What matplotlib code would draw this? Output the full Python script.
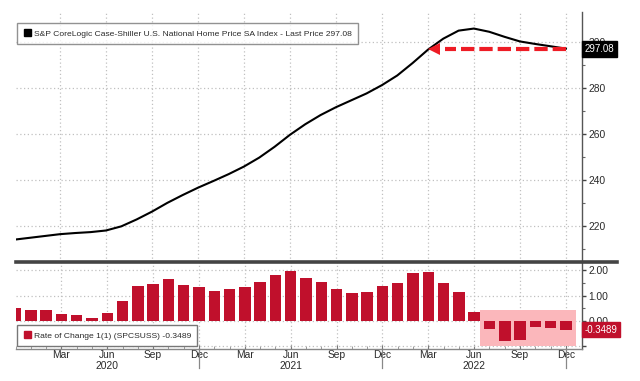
import numpy as np
import matplotlib
matplotlib.use("Agg")
import matplotlib.pyplot as plt
from matplotlib.patches import Patch, Rectangle
from matplotlib.lines import Line2D
import matplotlib.transforms as mtransforms

plt.rcParams['font.family'] = ['Liberation Sans', 'DejaVu Sans']

# ---------------- data ----------------
months = ['Dec 2019',
          'Jan 2020', 'Feb 2020', 'Mar 2020', 'Apr 2020', 'May 2020', 'Jun 2020',
          'Jul 2020', 'Aug 2020', 'Sep 2020', 'Oct 2020', 'Nov 2020', 'Dec 2020',
          'Jan 2021', 'Feb 2021', 'Mar 2021', 'Apr 2021', 'May 2021', 'Jun 2021',
          'Jul 2021', 'Aug 2021', 'Sep 2021', 'Oct 2021', 'Nov 2021', 'Dec 2021',
          'Jan 2022', 'Feb 2022', 'Mar 2022', 'Apr 2022', 'May 2022', 'Jun 2022',
          'Jul 2022', 'Aug 2022', 'Sep 2022', 'Oct 2022', 'Nov 2022', 'Dec 2022']

hpi_index = [214.0,
             214.8, 215.6, 216.4, 216.9, 217.3, 218.0,
             219.8, 222.8, 226.2, 230.0, 233.4, 236.6,
             239.5, 242.5, 245.8, 249.7, 254.4, 259.6,
             264.2, 268.2, 271.6, 274.6, 277.6, 281.2,
             285.4, 290.8, 296.6, 301.4, 304.9, 305.8,
             304.4, 302.2, 300.2, 299.1, 298.1, 297.08]

rate_of_change = [0.50,
                  0.43, 0.43, 0.28, 0.25, 0.13, 0.33,
                  0.80, 1.38, 1.46, 1.65, 1.42, 1.33,
                  1.20, 1.25, 1.33, 1.55, 1.82, 1.98,
                  1.69, 1.53, 1.25, 1.09, 1.16, 1.40,
                  1.49, 1.88, 1.92, 1.51, 1.16, 0.34,
                  -0.32, -0.78, -0.77, -0.22, -0.29, -0.3489]

tick_months = ['Mar 2020', 'Jun 2020', 'Sep 2020', 'Dec 2020',
               'Mar 2021', 'Jun 2021', 'Sep 2021', 'Dec 2021',
               'Mar 2022', 'Jun 2022', 'Sep 2022', 'Dec 2022']
year_labels = ['2020', '2021', '2022']

top_yticks = [220, 240, 260, 280, 300]
bot_yticks = [2.0, 1.0, 0.0, -1.0]

last_price = 297.08
last_roc = -0.3489
arrow_from, arrow_to = 'Dec 2022', 'Mar 2022'
highlight_from, highlight_to = 'Jun 2022', 'Dec 2022'
highlight_top = 0.43

line_label = 'S&P CoreLogic Case-Shiller U.S. National Home Price SA Index - Last Price 297.08'
bar_label = 'Rate of Change 1(1) (SPCSUSS) -0.3489'

# ---------------- layout ----------------
W, H = 640, 381
fig = plt.figure(figsize=(W / 100, H / 100), dpi=100)
fig.patch.set_facecolor('white')

x_left, x_right = 15.5, 582
y_top, y_sep, y_bot = 12, 262, 349
ax1 = fig.add_axes([x_left / W, 1 - y_sep / H, (x_right - x_left) / W, (y_sep - y_top) / H])
ax2 = fig.add_axes([x_left / W, 1 - y_bot / H, (x_right - x_left) / W, (y_bot - y_sep) / H])

x = np.arange(len(months))
idx = {m: i for i, m in enumerate(months)}
xlim = (0.1, 37.05)

text_col = '#2a2a2a'
grid_col = '#c0c0c0'
red = '#c0102c'
fs_tick = 7.4
fs_leg = 6.1

for ax in (ax1, ax2):
    ax.set_xlim(*xlim)
    for s in ('top', 'left'):
        ax.spines[s].set_visible(False)
    ax.spines['right'].set_color('#555555')
    ax.spines['right'].set_linewidth(1.0)
    ax.yaxis.tick_right()
    ax.tick_params(axis='y', which='major', direction='out', length=3, width=1,
                   colors='#444444', labelcolor=text_col, labelsize=fs_tick, pad=1.5)
    ax.tick_params(axis='y', which='minor', direction='out', length=2, width=0.8, colors='#666666')
    ax.set_xticks([idx[m] for m in tick_months])
    ax.grid(True, which='major', color=grid_col, linestyle=(0, (1, 2)), linewidth=0.9)
    ax.set_axisbelow(True)

# ---------------- top panel ----------------
ax1.set_ylim(204.3, 313.0)
ax1.set_yticks(top_yticks)
ax1.set_yticks([v + 10 for v in top_yticks[:-1]] + [210], minor=True)
ax1.spines['bottom'].set_visible(False)
ax1.tick_params(axis='x', which='both', bottom=False, labelbottom=False)
ax1.plot(x, hpi_index, color='black', linewidth=1.5, zorder=3)

# red dashed arrow
xa0, xa1 = idx[arrow_from], idx[arrow_to] + 0.7
ax1.plot([xa0, xa1 + 0.4], [last_price, last_price], color='#ee1c25', linewidth=3.0,
         linestyle=(0, (3.2, 1.2)), solid_capstyle='butt', zorder=4)
ax1.plot([xa1 - 0.3], [last_price], marker='<', color='#ee1c25', markersize=9,
         markeredgewidth=0, zorder=4)

# price tag
ax1.annotate(f'{last_price:.2f}', xy=(1.0, last_price),
             xycoords=mtransforms.blended_transform_factory(ax1.transAxes, ax1.transData),
             xytext=(2, 0), textcoords='offset points', ha='left', va='center',
             color='white', fontsize=fs_tick - 0.4, zorder=10, annotation_clip=False,
             bbox=dict(boxstyle='square,pad=0.3', facecolor='black', edgecolor='black'))

ax1.legend(handles=[Patch(facecolor='black', edgecolor='black')], labels=[line_label],
           loc='upper left', bbox_to_anchor=(0.003, 0.956), borderaxespad=0,
           fontsize=fs_leg, frameon=True,
           fancybox=False, edgecolor='#777777', handlelength=0.9, handleheight=0.9,
           handletextpad=0.3, borderpad=0.75, labelcolor=text_col)

# ---------------- bottom panel ----------------
ax2.set_ylim(-1.107, 2.33)
ax2.set_yticks(bot_yticks)
ax2.set_yticklabels(['2.00', '1.00', '0.00', ''])
ax2.set_yticks([1.5, 0.5, -0.5], minor=True)
ax2.spines['bottom'].set_color('#888888')
ax2.spines['bottom'].set_linewidth(1.0)

hx0 = idx[highlight_from] + 0.4
hx1 = idx[highlight_to] + 0.66
ax2.add_patch(Rectangle((hx0, -1.0), hx1 - hx0, highlight_top + 1.0,
                        facecolor='#fbb7bb', edgecolor='none', zorder=1))
ax2.bar(x, rate_of_change, width=0.75, color=red, edgecolor=red, linewidth=0, zorder=3)

ax2.annotate(f'{last_roc:.4f}', xy=(1.0, last_roc),
             xycoords=mtransforms.blended_transform_factory(ax2.transAxes, ax2.transData),
             xytext=(2, 0), textcoords='offset points', ha='left', va='center',
             color='white', fontsize=fs_tick - 0.4, zorder=10, annotation_clip=False,
             bbox=dict(boxstyle='square,pad=0.25', facecolor=red, edgecolor=red))

ax2.legend(handles=[Patch(facecolor=red, edgecolor=red)], labels=[bar_label],
           loc='lower left', bbox_to_anchor=(0.003, 0.034), borderaxespad=0,
           fontsize=fs_leg, frameon=True,
           fancybox=False, edgecolor='#777777', handlelength=0.9, handleheight=0.9,
           handletextpad=0.3, borderpad=0.75, labelcolor=text_col, framealpha=1)

# x axis labels
ax2.set_xticklabels([m.split()[0] for m in tick_months])
ax2.set_xticks(x, minor=True)
ax2.tick_params(axis='x', which='major', direction='in', length=3, colors='#777777',
                labelcolor=text_col, labelsize=fs_tick, pad=1.0)
ax2.tick_params(axis='x', which='minor', direction='in', length=2, colors='#888888')

trans = mtransforms.blended_transform_factory(ax2.transData, ax2.transAxes)
for yl in year_labels:
    ax2.text(idx['Jun ' + yl], -0.2, yl, transform=trans, ha='center', va='center',
             fontsize=fs_tick, color=text_col)
for m in tick_months:
    if m.startswith('Dec'):
        ax2.plot([idx[m], idx[m]], [0, -0.22], transform=trans, color='#888888',
                 linewidth=0.9, clip_on=False)

# thick separator between panels
fig.add_artist(Line2D([x_left / W, 617 / W], [1 - y_sep / H, 1 - y_sep / H],
                      color='#444444', linewidth=2.6))

fig.savefig('out.png', dpi=100, facecolor='white')
